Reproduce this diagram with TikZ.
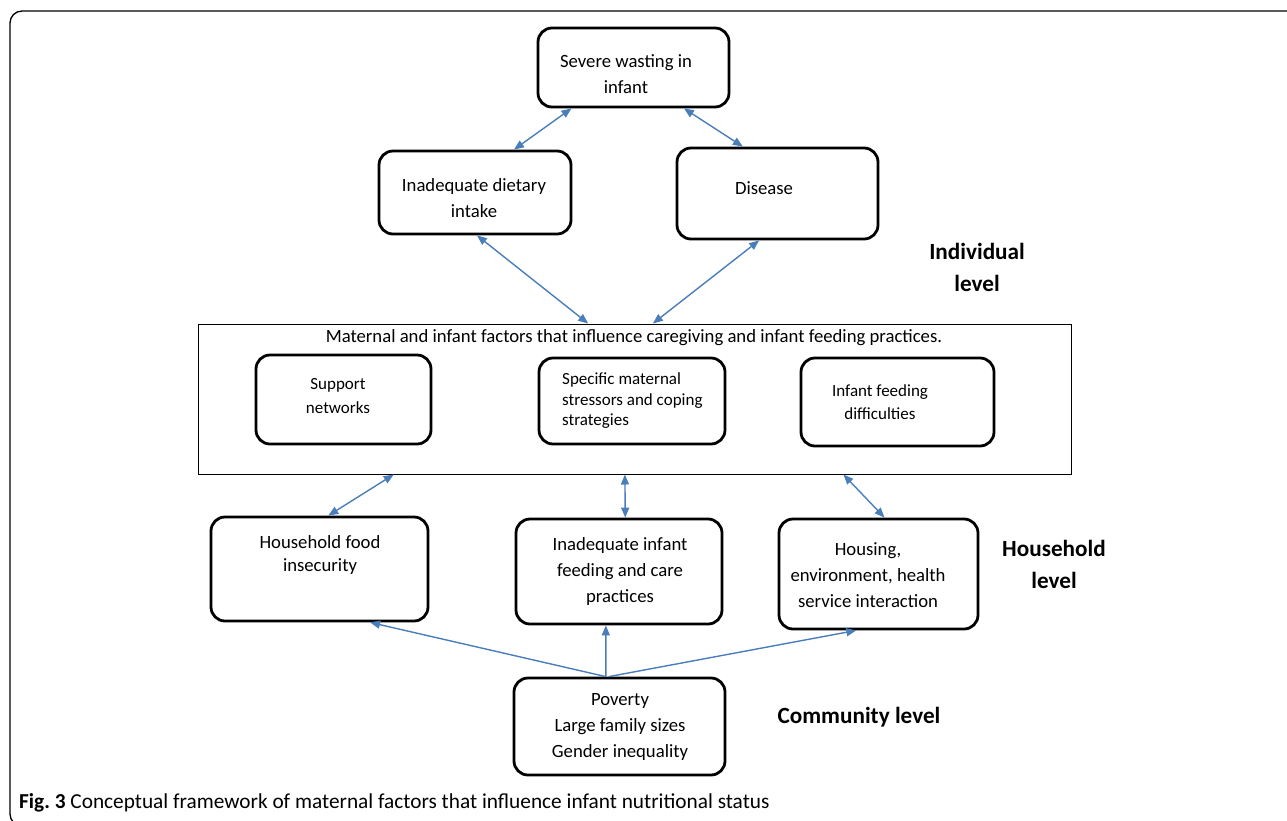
\documentclass[tikz,border=0pt]{standalone}
\usepackage{fontspec}
\setmainfont{Carlito}
\usetikzlibrary{calc,arrows.meta}
\definecolor{arrblue}{HTML}{4A7EBB}
\tikzset{
  box/.style={draw=black, line width=2.8pt, rounded corners=14pt, inner sep=0pt, fill=none},
  txt/.style={align=center, inner sep=0pt, font=\fontsize{18.7}{26}\selectfont},
  stxt/.style={align=center, inner sep=0pt, font=\fontsize{17}{24}\selectfont},
  lvl/.style={align=center, inner sep=0pt, font=\fontsize{23.2}{32}\selectfont\bfseries},
  arr/.style={draw=arrblue, line width=1.4pt, -{Triangle[length=10pt,width=8pt]}},
  darr/.style={draw=arrblue, line width=1.4pt, {Triangle[length=10pt,width=8pt]}-{Triangle[length=10pt,width=8pt]}},
}
\begin{document}
\begin{tikzpicture}[x=1pt,y=-1pt]
\useasboundingbox (0,0) rectangle (1287,820);
\begin{scope}
\clip (0,0) rectangle (1287,820);
\draw[line width=1.3pt, rounded corners=12pt] (10,11) rectangle (1300,826);
\end{scope}

% top level boxes
\node[box, minimum width=191pt, minimum height=79pt] (sev) at (633.5,67.5) {};
\node[txt] (tsev) at (626,74) {Severe wasting in\\infant};
\node[box, minimum width=192pt, minimum height=83pt] (diet) at (475,192.5) {};
\node[txt] (tdiet) at (474,198) {Inadequate dietary\\intake};
\node[box, minimum width=201pt, minimum height=91pt] (dis) at (777.5,193.5) {};
\node[txt] (tdis) at (764,188) {Disease};
\node[lvl] (lind) at (977,267) {Individual\\level};

% big rectangle
\node[draw=black, line width=1pt, minimum width=873pt, minimum height=150pt, inner sep=0pt] (big) at (634.5,399) {};
\node[txt] (tbig) at (634,338) {Maternal and infant factors that influence caregiving and infant feeding practices.};
\node[box, minimum width=175pt, minimum height=89pt] (sup) at (343.5,399.5) {};
\node[stxt] (tsup) at (338,396) {Support\\networks};
\node[box, minimum width=186pt, minimum height=86pt] (str) at (632,401) {};
\node[stxt, align=left, anchor=west, font=\fontsize{17}{20.5}\selectfont] (tstr) at (562,401) {Specific maternal\\stressors and coping\\strategies};
\node[box, minimum width=193pt, minimum height=88pt] (dif) at (897.5,402) {};
\node[stxt, font=\fontsize{17}{23}\selectfont] (tdif) at (880,402) {Infant feeding\\difficulties};

% household level
\node[box, minimum width=217pt, minimum height=104pt] (food) at (319.5,569) {};
\node[txt, font=\fontsize{18.7}{23}\selectfont] (tfood) at (320,555) {Household food\\insecurity};
\node[box, minimum width=206pt, minimum height=105pt] (feed) at (619,571.5) {};
\node[txt] (tfeed) at (620,572) {Inadequate infant\\feeding and care\\practices};
\node[box, minimum width=199pt, minimum height=110pt] (hous) at (878.5,574) {};
\node[txt] (thous) at (868,575) {Housing,\\environment, health\\service interaction};
\node[lvl] (lhh) at (1054,564) {Household\\level};

% community level
\node[box, minimum width=211pt, minimum height=97pt] (pov) at (619.5,726.5) {};
\node[txt] (tpov) at (620,727) {Poverty\\Large family sizes\\Gender inequality};
\node[lvl] (lcom) at (859,717) {Community level};

% caption
\node[anchor=west, inner sep=0pt, font=\fontsize{21.3}{24}\selectfont] (cap) at (19,803) {\textbf{Fig.\ 3} Conceptual framework of maternal factors that influence infant nutritional status};

% connectors
\draw[darr] ($(sev.south west)!0.18!(sev.south east)$) -- ($(diet.north west)!0.70!(diet.north east)$);
\draw[darr] ($(sev.south west)!0.76!(sev.south east)$) -- ($(dis.north west)!0.33!(dis.north east)$);
\draw[darr] ($(diet.south west)!0.51!(diet.south east)$) -- ($(big.north west)!0.447!(big.north east)$);
\draw[darr] ($(dis.south west)!0.41!(dis.south east)$) -- ($(big.north west)!0.521!(big.north east)$);
\draw[darr] ($(big.south west)!0.2245!(big.south east)$) -- ($(food.north west)!0.54!(food.north east)$);
\draw[darr] ($(big.south west)!0.489!(big.south east)$) -- ($(feed.north west)!0.53!(feed.north east)$);
\draw[darr] ($(big.south west)!0.739!(big.south east)$) -- ($(hous.north west)!0.53!(hous.north east)$);
\draw[arr] ($(pov.north west)!0.436!(pov.north east)$) -- ($(food.south west)!0.73!(food.south east)$);
\draw[arr] ($(pov.north west)!0.436!(pov.north east)$) -- ($(feed.south west)!0.437!(feed.south east)$);
\draw[arr] ($(pov.north west)!0.45!(pov.north east)$) -- ($(hous.south west)!0.39!(hous.south east)$);
\end{tikzpicture}
\end{document}
